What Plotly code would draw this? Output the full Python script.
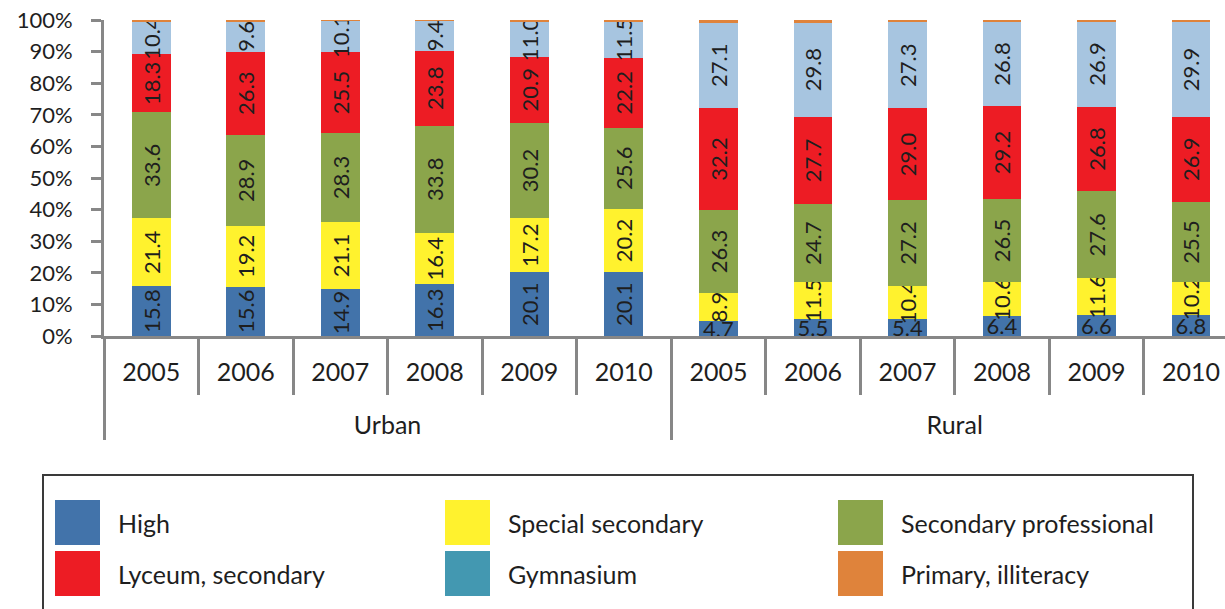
import plotly.graph_objects as go

# Education level shares (%) by settlement type and year
groups = ["Urban"] * 6 + ["Rural"] * 6
years = ["2005", "2006", "2007", "2008", "2009", "2010"] * 2

high = [15.8, 15.6, 14.9, 16.3, 20.1, 20.1, 4.7, 5.5, 5.4, 6.4, 6.6, 6.8]
special_secondary = [21.4, 19.2, 21.1, 16.4, 17.2, 20.2, 8.9, 11.5, 10.4, 10.6, 11.6, 10.2]
secondary_professional = [33.6, 28.9, 28.3, 33.8, 30.2, 25.6, 26.3, 24.7, 27.2, 26.5, 27.6, 25.5]
lyceum_secondary = [18.3, 26.3, 25.5, 23.8, 20.9, 22.2, 32.2, 27.7, 29.0, 29.2, 26.8, 26.9]
gymnasium = [10.4, 9.6, 10.1, 9.4, 11.0, 11.5, 27.1, 29.8, 27.3, 26.8, 26.9, 29.9]
primary_illiteracy = [0.5, 0.4, 0.1, 0.3, 0.6, 0.4, 0.8, 0.8, 0.7, 0.5, 0.5, 0.7]

legend_names = ["High", "Special secondary", "Secondary professional",
                "Lyceum, secondary", "Gymnasium", "Primary, illiteracy"]

BLUE = "#4273AA"
YELLOW = "#FFF22E"
GREEN = "#8BA54B"
RED = "#ED1C24"
LIGHTBLUE = "#A7C5E0"
TEAL = "#4398B1"
ORANGE = "#DF833B"
AXIS = "#878787"
TXT = "#1E1E1E"
FONT = "Lato"

W, H = 1225, 609
ML, MR, MT, MB = 104, 0, 20, 273


def px_x(p):
    return (p - ML) / (W - ML - MR)


def px_y(p):
    return (H - MB - p) / (H - MT - MB)


# outer category labels sit one line lower than the year row
outer = ["<br>" + g for g in groups]

fig = go.Figure()


def add_bars(values, color, sl, angle=-90, labels=True):
    fig.add_trace(go.Bar(
        x=[outer[sl], years[sl]],
        y=values[sl],
        marker=dict(color=color, line=dict(width=0)),
        text=[f"{v:.1f}" for v in values[sl]] if labels else None,
        textposition="inside" if labels else "none",
        insidetextanchor="middle",
        textangle=angle,
        constraintext="none",
        textfont=dict(family=FONT, size=22, color=TXT),
        showlegend=False,
        hoverinfo="y",
    ))


urban = slice(0, 6)
rural = slice(6, 12)
allc = slice(0, 12)

# High: vertical labels for Urban, horizontal for the thin Rural segments
add_bars(high, BLUE, urban, angle=-90)
add_bars(high, BLUE, rural, angle=0)
add_bars(special_secondary, YELLOW, allc)
add_bars(secondary_professional, GREEN, allc)
add_bars(lyceum_secondary, RED, allc)
add_bars(gymnasium, LIGHTBLUE, allc)
add_bars(primary_illiteracy, ORANGE, allc, labels=False)

# Legend drawn as a boxed 3-column key
shapes = [dict(type="rect", xref="paper", yref="paper",
               x0=px_x(43), x1=px_x(1193), y0=px_y(650), y1=px_y(475),
               line=dict(color="#3A3A3A", width=2), fillcolor="rgba(0,0,0,0)",
               layer="above")]
annotations = []
swatch_colors = [BLUE, YELLOW, GREEN, RED, TEAL, ORANGE]
col_x = [55, 445, 838]
row_y = [500, 551]
for i, (name, col) in enumerate(zip(legend_names, swatch_colors)):
    r, c = divmod(i, 3)
    x0 = col_x[c]
    y0 = row_y[r]
    shapes.append(dict(type="rect", xref="paper", yref="paper",
                       x0=px_x(x0), x1=px_x(x0 + 45), y0=px_y(y0 + 45), y1=px_y(y0),
                       line=dict(width=0), fillcolor=col))
    annotations.append(dict(xref="paper", yref="paper", x=px_x(x0 + 61), y=px_y(y0 + 23),
                            text=name, showarrow=False, xanchor="left", yanchor="middle",
                            font=dict(family=FONT, size=25, color=TXT)))

fig.update_layout(
    width=W, height=H,
    margin=dict(l=ML, r=MR, t=MT, b=MB, pad=0),
    barmode="stack",
    bargap=0.59,
    plot_bgcolor="white",
    paper_bgcolor="white",
    font=dict(family=FONT, size=22, color=TXT),
    shapes=shapes,
    annotations=annotations,
    xaxis=dict(
        type="multicategory",
        range=[-0.5, 11.36],
        showline=True, linecolor=AXIS, linewidth=3,
        ticks="outside", tickson="boundaries", ticklen=56, tickwidth=3, tickcolor=AXIS,
        ticklabelstandoff=12,
        showdividers=True, dividercolor=AXIS, dividerwidth=3,
        showgrid=False, zeroline=False,
        tickfont=dict(family=FONT, size=25, color=TXT),
    ),
    yaxis=dict(
        range=[0, 100], dtick=10, ticksuffix="%",
        showline=True, linecolor=AXIS, linewidth=3,
        ticks="outside", ticklen=10, tickwidth=3, tickcolor=AXIS,
        ticklabelstandoff=14,
        showgrid=False, zeroline=False,
        tickfont=dict(family=FONT, size=22, color=TXT),
    ),
    yaxis2=dict(
        overlaying="y", anchor="x", side="left",
        range=[0, 100], dtick=10,
        ticks="inside", ticklen=10, tickwidth=3, tickcolor=AXIS,
        showticklabels=False, showline=False, showgrid=False, zeroline=False,
    ),
)

fig.write_html("out.html")
